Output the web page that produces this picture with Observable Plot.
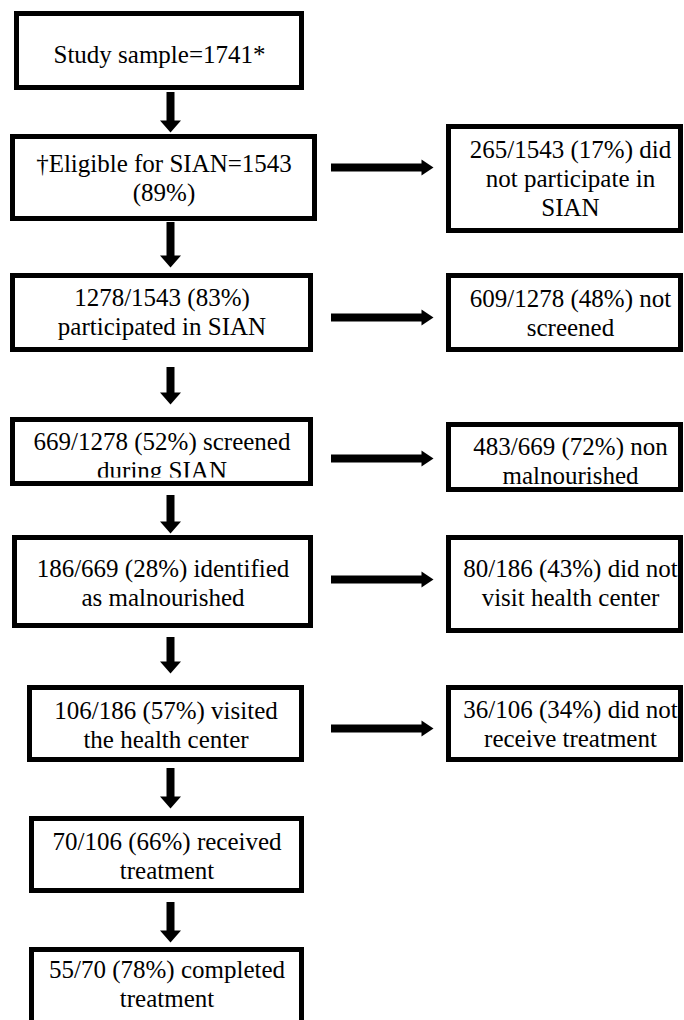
<!DOCTYPE html>
<html>
<head>
<meta charset="utf-8">
<script src="https://cdn.jsdelivr.net/npm/d3@7"></script>
<script src="https://cdn.jsdelivr.net/npm/@observablehq/plot@0.6"></script>
<style>
  html, body { margin: 0; padding: 0; background: #fff; }
  #chart svg { display: block; }
</style>
</head>
<body>
<div id="chart"></div>
<script>
// ---- Content (flow steps) ----
const mainLabels = [
  "Study sample=1741*",
  "†Eligible for SIAN=1543\n(89%)",
  "1278/1543 (83%)\nparticipated in SIAN",
  "669/1278 (52%) screened\nduring SIAN",
  "186/669 (28%) identified\nas malnourished",
  "106/186 (57%) visited\nthe health center",
  "70/106 (66%) received\ntreatment",
  "55/70 (78%) completed\ntreatment"
];
const sideLabels = [
  "265/1543 (17%) did\nnot participate in\nSIAN",
  "609/1278 (48%) not\nscreened",
  "483/669 (72%) non\nmalnourished",
  "80/186 (43%) did not\nvisit health center",
  "36/106 (34%) did not\nreceive treatment"
];

// ---- Layout (outer box edges, text baselines of last line) ----
const mainTop      = [11, 134, 273, 417, 535, 685, 816, 947];
const mainBottom   = [90, 221, 352, 486, 628, 762, 893, 1032];
const mainLeft     = [14, 10, 10, 10, 12, 27, 29, 29];
const mainRight    = [304, 317, 313, 313, 313, 304, 304, 304];
const mainBaseline = [62, 200, 334, 478, 605, 747, 878, 1006];

const sideTop      = [124, 273, 422, 535, 685];
const sideBottom   = [233, 352, 492, 633, 762];
const sideBaseline = [215, 335, 483, 605, 746];
const sideLeft = 446, sideRight = 683, sideTextX = 570;

const downArrowStart = [92, 222, 367, 495, 637, 768, 902];
const downArrowTip   = [132, 267, 404, 533, 673, 808, 942];
const downArrowX = 170;
const sideArrowY = [167, 317, 458, 579, 728];
const sideArrowStart = 331, sideArrowTip = 433;

// ---- Styles ----
const BORDER = 5, SHAFT = 8;
const V_HEAD_W = 21, V_HEAD_L = 12, H_HEAD_W = 16, H_HEAD_L = 12;
const FONT = "Liberation Serif";

const boxes = mainLabels.map((label, i) => ({
  label,
  x1: mainLeft[i] + BORDER / 2, x2: mainRight[i] - BORDER / 2,
  y1: mainTop[i] + BORDER / 2, y2: mainBottom[i] - BORDER / 2,
  tx: (mainLeft[i] + mainRight[i]) / 2, ty: mainBaseline[i]
}));
const sides = sideLabels.map((label, i) => ({
  label,
  x1: sideLeft + BORDER / 2, x2: sideRight - BORDER / 2,
  y1: sideTop[i] + BORDER / 2, y2: sideBottom[i] - BORDER / 2,
  tx: sideTextX, ty: sideBaseline[i]
}));
const allBoxes = boxes.concat(sides);

const vArrows = downArrowStart.map((s, i) => ({ x: downArrowX, y1: s, y2: downArrowTip[i] }));
const hArrows = sideArrowY.map(y => ({ y, x1: sideArrowStart, x2: sideArrowTip }));

const heads = [];
vArrows.forEach((a, i) => {
  heads.push(
    { id: "v" + i, x: a.x - V_HEAD_W / 2, y: a.y2 - V_HEAD_L },
    { id: "v" + i, x: a.x + V_HEAD_W / 2, y: a.y2 - V_HEAD_L },
    { id: "v" + i, x: a.x, y: a.y2 }
  );
});
hArrows.forEach((a, i) => {
  heads.push(
    { id: "h" + i, x: a.x2 - H_HEAD_L, y: a.y - H_HEAD_W / 2 },
    { id: "h" + i, x: a.x2 - H_HEAD_L, y: a.y + H_HEAD_W / 2 },
    { id: "h" + i, x: a.x2, y: a.y }
  );
});

const chart = Plot.plot({
  width: 684,
  height: 1020,
  margin: 0,
  style: { background: "white", fontFamily: "Liberation Serif, serif" },
  x: { domain: [0, 684], range: [0, 684], axis: null },
  y: { domain: [0, 1020], range: [0, 1020], axis: null },
  marks: [
    Plot.rect(allBoxes, { x1: "x1", x2: "x2", y1: "y1", y2: "y2", fill: "white" }),
    Plot.text(allBoxes, {
      x: "tx", y: "ty", text: "label",
      lineAnchor: "bottom", lineHeight: 1.15,
      fontSize: 25, fontFamily: FONT, fill: "black"
    }),
    // the step boxes cut off text that runs into their lower edge
    Plot.ruleY(boxes, { y: "y2", x1: "x1", x2: "x2", stroke: "white", strokeWidth: 13 }),
    Plot.rect(allBoxes, {
      x1: "x1", x2: "x2", y1: "y1", y2: "y2",
      fill: "none", stroke: "black", strokeWidth: BORDER
    }),
    Plot.ruleX(vArrows, { x: "x", y1: "y1", y2: d => d.y2 - V_HEAD_L + 1, stroke: "black", strokeWidth: SHAFT }),
    Plot.ruleY(hArrows, { y: "y", x1: "x1", x2: d => d.x2 - H_HEAD_L + 1, stroke: "black", strokeWidth: SHAFT }),
    Plot.line(heads, { x: "x", y: "y", z: "id", fill: "black", stroke: "none" })
  ]
});
document.getElementById("chart").appendChild(chart);
</script>
</body>
</html>
